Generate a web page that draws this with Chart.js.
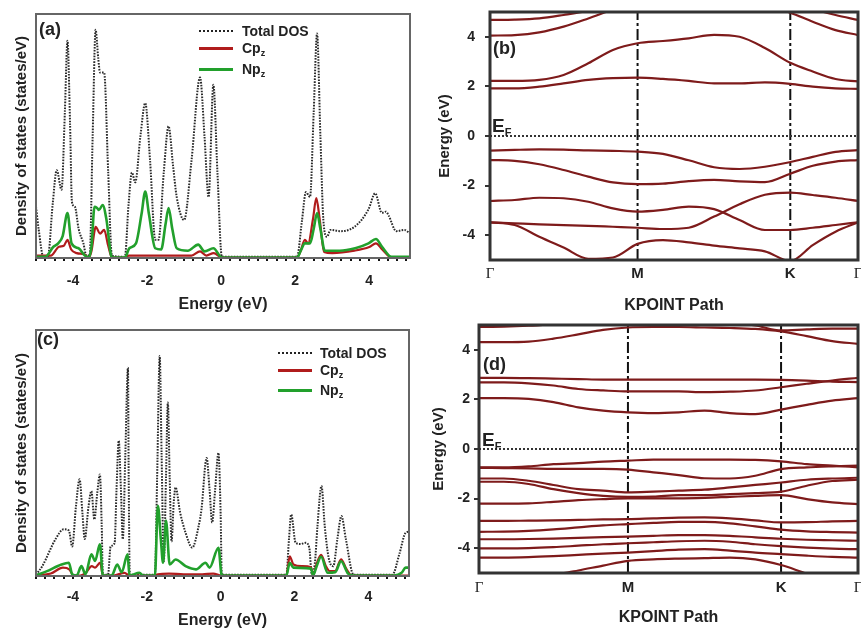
<!DOCTYPE html>
<html>
<head>
<meta charset="utf-8">
<script src="https://cdn.jsdelivr.net/npm/chart.js@4.4.1/dist/chart.umd.min.js"></script>
<style>
body{margin:0;background:#fff;width:861px;height:630px;position:relative;overflow:hidden;font-family:"Liberation Sans",Arial,sans-serif;}
canvas{position:absolute;}
.t{position:absolute;font-weight:bold;color:#222;white-space:nowrap;line-height:1;font-size:14px;}
.t sub{font-size:9px;vertical-align:-3px;}
.lab{font-size:18px;}
.ef{font-size:19px;font-weight:bold;}
.ef sub{font-size:11px;vertical-align:-4px;}
.ln{position:absolute;height:0;width:34px;}
</style>
</head>
<body>
<canvas id="dosA" width="430" height="316" style="left:0;top:0"></canvas>
<canvas id="bandB" width="431" height="316" style="left:430px;top:0"></canvas>
<canvas id="dosC" width="430" height="314" style="left:0;top:316px"></canvas>
<canvas id="bandD" width="431" height="314" style="left:430px;top:316px"></canvas>

<div class="t lab" style="left:39px;top:20px">(a)</div>
<div class="ln" style="left:199px;top:30px;border-top:2px dotted #222"></div>
<div class="t" style="left:242px;top:24px">Total DOS</div>
<div class="ln" style="left:199px;top:47px;border-top:3px solid #b01c1c"></div>
<div class="t" style="left:242px;top:41px">Cp<sub>z</sub></div>
<div class="ln" style="left:199px;top:68px;border-top:3px solid #22a02c"></div>
<div class="t" style="left:242px;top:62px">Np<sub>z</sub></div>

<div class="t lab" style="left:493px;top:39px">(b)</div>
<div class="t ef" style="left:492px;top:116px">E<sub>F</sub></div>

<div class="t lab" style="left:37px;top:330px">(c)</div>
<div class="ln" style="left:278px;top:352px;border-top:2px dotted #222"></div>
<div class="t" style="left:320px;top:346px">Total DOS</div>
<div class="ln" style="left:278px;top:369px;border-top:3px solid #b01c1c"></div>
<div class="t" style="left:320px;top:363px">Cp<sub>z</sub></div>
<div class="ln" style="left:278px;top:389px;border-top:3px solid #22a02c"></div>
<div class="t" style="left:320px;top:383px">Np<sub>z</sub></div>

<div class="t lab" style="left:483px;top:355px">(d)</div>
<div class="t ef" style="left:482px;top:430px">E<sub>F</sub></div>

<script>
// DOS panels: [energy (eV), states/eV]
const dosA_total = [[-5.0,2.1],[-4.93,1.2],[-4.8,0.05],[-4.68,0.05],[-4.55,2.2],[-4.44,3.6],[-4.31,2.8],[-4.22,6.0],[-4.15,8.9],[-4.08,5.5],[-4.03,2.3],[-3.95,2.1],[-3.85,1.2],[-3.72,0.6],[-3.64,0.1],[-3.55,0.1],[-3.47,5.0],[-3.39,9.35],[-3.32,8.2],[-3.27,7.6],[-3.16,7.6],[-3.05,3.5],[-2.95,0.1],[-2.6,0.05],[-2.5,2.2],[-2.41,3.5],[-2.32,3.1],[-2.18,5.0],[-2.05,6.35],[-1.92,4.0],[-1.78,0.75],[-1.69,0.75],[-1.55,3.5],[-1.42,5.4],[-1.3,3.8],[-1.2,2.5],[-1.0,1.56],[-0.8,4.0],[-0.57,7.4],[-0.45,5.0],[-0.34,2.5],[-0.21,7.1],[-0.1,3.5],[0.02,0.05],[2.05,0.05],[2.18,1.5],[2.29,2.7],[2.4,2.5],[2.5,6.0],[2.59,9.2],[2.68,5.0],[2.76,1.56],[2.86,0.87],[2.95,1.15],[3.22,1.1],[3.62,1.3],[3.98,2.0],[4.16,2.65],[4.34,1.85],[4.45,1.9],[4.52,1.75],[4.73,1.1],[4.95,1.15],[5.1,1.0]];
const dosA_cp = [[-5.0,0.1],[-4.6,0.1],[-4.38,0.46],[-4.25,0.5],[-4.15,0.74],[-4.05,0.35],[-3.9,0.2],[-3.7,0.15],[-3.58,0.02],[-3.5,0.3],[-3.42,1.1],[-3.39,1.28],[-3.27,1.0],[-3.16,1.15],[-3.05,0.5],[-2.95,0.02],[-2.6,0.02],[-2.5,0.1],[-1.5,0.1],[-0.8,0.1],[-0.57,0.27],[-0.4,0.1],[-0.2,0.2],[0.02,0.02],[2.05,0.02],[2.15,0.3],[2.26,0.74],[2.35,0.6],[2.48,1.6],[2.57,2.45],[2.66,1.6],[2.78,0.25],[3.0,0.2],[3.6,0.3],[4.0,0.45],[4.18,0.6],[4.35,0.35],[4.6,0.02],[5.1,0.02]];
const dosA_np = [[-5.0,0.05],[-4.75,0.05],[-4.53,0.46],[-4.4,0.6],[-4.28,0.9],[-4.15,1.84],[-4.04,0.6],[-3.85,0.4],[-3.68,0.1],[-3.58,0.02],[-3.5,0.5],[-3.42,2.1],[-3.35,2.05],[-3.3,1.97],[-3.2,2.17],[-3.1,1.6],[-2.95,0.02],[-2.6,0.02],[-2.48,0.4],[-2.3,0.6],[-2.15,1.8],[-2.05,2.72],[-1.95,1.8],[-1.78,0.4],[-1.62,0.35],[-1.5,1.4],[-1.42,2.05],[-1.32,1.2],[-1.2,0.4],[-0.9,0.3],[-0.62,0.55],[-0.45,0.27],[-0.21,0.4],[0.02,0.02],[2.05,0.02],[2.15,0.3],[2.26,0.6],[2.4,0.6],[2.5,1.2],[2.59,1.84],[2.68,1.2],[2.8,0.3],[3.2,0.3],[3.62,0.4],[3.98,0.6],[4.18,0.78],[4.35,0.45],[4.6,0.05],[5.1,0.05]];

const dosC_total = [[-5.0,0.05],[-4.83,0.4],[-4.47,1.5],[-4.25,1.9],[-4.11,1.85],[-4.02,1.2],[-3.92,2.8],[-3.82,3.93],[-3.74,2.5],[-3.68,1.5],[-3.58,2.8],[-3.5,3.45],[-3.42,2.3],[-3.34,3.4],[-3.27,4.13],[-3.22,2.0],[-3.19,0.05],[-3.05,0.05],[-2.98,1.2],[-2.87,1.35],[-2.82,3.5],[-2.76,5.5],[-2.7,3.5],[-2.65,1.5],[-2.58,5.0],[-2.51,8.47],[-2.49,4.0],[-2.46,0.05],[-1.78,0.05],[-1.72,4.0],[-1.65,8.94],[-1.6,5.0],[-1.54,0.6],[-1.48,4.0],[-1.43,7.05],[-1.38,4.0],[-1.33,1.4],[-1.27,3.0],[-1.22,3.6],[-1.1,2.6],[-0.95,1.76],[-0.77,1.15],[-0.6,2.0],[-0.52,2.7],[-0.38,4.8],[-0.3,3.5],[-0.23,2.17],[-0.15,3.5],[-0.06,5.0],[0.0,2.5],[0.03,0.05],[1.78,0.05],[1.85,1.5],[1.91,2.5],[2.03,1.35],[2.17,1.3],[2.3,1.35],[2.4,1.15],[2.47,0.05],[2.55,0.5],[2.62,2.0],[2.73,3.66],[2.82,2.0],[2.93,0.7],[3.05,0.4],[3.16,1.5],[3.27,2.44],[3.39,1.5],[3.6,0.05],[4.65,0.05],[4.84,0.9],[5.01,1.76],[5.1,1.8]];
const dosC_cp = [[-5.0,0.02],[-4.6,0.1],[-4.27,0.34],[-4.1,0.27],[-3.98,0.02],[-3.8,0.02],[-3.65,0.13],[-3.49,0.4],[-3.4,0.34],[-3.26,0.54],[-3.19,0.02],[-2.9,0.02],[-2.6,0.13],[-2.48,0.02],[-1.8,0.02],[-1.7,0.07],[-1.4,0.1],[-1.0,0.07],[-0.5,0.07],[-0.2,0.1],[0.02,0.02],[1.78,0.02],[1.87,0.8],[1.97,0.47],[2.2,0.4],[2.45,0.35],[2.5,0.02],[2.6,0.5],[2.72,0.86],[2.85,0.4],[2.95,0.2],[3.1,0.2],[3.26,0.68],[3.4,0.3],[3.55,0.02],[5.1,0.02]];
const dosC_np = [[-5.0,0.02],[-4.7,0.2],[-4.31,0.47],[-4.11,0.54],[-4.02,0.07],[-3.9,0.02],[-3.77,0.4],[-3.66,0.07],[-3.5,0.88],[-3.4,0.61],[-3.27,1.29],[-3.19,0.02],[-2.95,0.02],[-2.8,0.47],[-2.68,0.15],[-2.52,0.88],[-2.47,0.02],[-2.2,0.13],[-2.1,0.02],[-1.78,0.02],[-1.7,2.85],[-1.62,1.5],[-1.56,0.54],[-1.48,2.25],[-1.38,0.47],[-1.22,0.67],[-0.95,0.4],[-0.67,0.27],[-0.41,0.54],[-0.3,0.34],[-0.06,1.15],[0.03,0.02],[1.78,0.02],[1.87,0.54],[1.97,0.34],[2.45,0.3],[2.5,0.02],[2.6,0.4],[2.72,0.78],[2.9,0.13],[3.1,0.15],[3.26,0.6],[3.45,0.1],[3.6,0.02],[4.7,0.02],[4.9,0.13],[5.01,0.34],[5.1,0.34]];

const dosTickLabels = [-4, -2, 0, 2, 4];

// band structures: k path position (0..1) and energies (eV)
const kLabels = ['Γ', 'M', 'K', 'Γ'];
const kTicksB = [0, 0.401, 0.816, 1];
const kTicksD = [0, 0.393, 0.797, 1];
const eTicks = [-4, -2, 0, 2, 4];

const kB = [0, 0.067, 0.134, 0.2, 0.267, 0.334, 0.401, 0.47, 0.54, 0.609, 0.678, 0.747, 0.816, 0.877, 0.939, 1.0];
const bandsB = [
  [4.68, 4.69, 4.74, 4.88, 5.05, 5.3, 5.5, 5.6, 5.6, 5.6, 5.6, 5.5, 5.4, 5.12, 4.88, 4.68],
  [4.05, 4.07, 4.18, 4.41, 4.74, 5.1, 5.4, 5.6, 5.7, 5.7, 5.6, 5.3, 4.97, 4.61, 4.27, 4.07],
  [2.22, 2.22, 2.26, 2.46, 2.93, 3.47, 3.74, 3.83, 3.94, 4.08, 4.0, 3.55, 2.95, 2.6, 2.3, 2.2],
  [1.92, 1.92, 1.99, 2.12, 2.26, 2.33, 2.35, 2.3, 2.22, 2.12, 2.12, 2.16, 2.1, 1.99, 1.92, 1.9],
  [-0.59, -0.56, -0.54, -0.55, -0.58, -0.6, -0.63, -0.72, -0.98, -1.26, -1.33, -1.24, -1.05, -0.84, -0.64, -0.57],
  [-0.97, -1.0, -1.14, -1.37, -1.64, -1.87, -1.94, -1.92, -1.82, -1.77, -1.83, -1.86, -1.52, -1.2, -1.03, -0.97],
  [-2.62, -2.58, -2.49, -2.51, -2.65, -2.92, -3.05, -2.98, -2.85, -2.95, -3.39, -3.79, -3.79, -3.7, -3.59, -3.48],
  [-3.48, -3.52, -3.56, -3.59, -3.62, -3.66, -3.7, -3.75, -3.7, -3.25, -2.75, -2.37, -2.28, -2.38, -2.49, -2.62],
  [-3.48, -3.59, -4.06, -4.5, -4.95, -4.9, -4.35, -4.2, -4.29, -4.42, -4.53, -4.65, -5.04, -4.4, -3.86, -3.48]
];

const kD = [0, 0.0655, 0.131, 0.1965, 0.262, 0.3275, 0.393, 0.46, 0.527, 0.595, 0.662, 0.729, 0.797, 0.865, 0.932, 1.0];
const bandsD = [
  [4.92, 4.93, 4.97, 5.04, 5.12, 5.2, 5.25, 5.25, 5.25, 5.2, 5.1, 4.98, 4.78, 4.82, 4.85, 4.85],
  [4.31, 4.31, 4.33, 4.45, 4.62, 4.8, 4.9, 4.92, 4.92, 4.9, 4.88, 4.84, 4.74, 4.55, 4.35, 4.24],
  [2.87, 2.87, 2.86, 2.84, 2.82, 2.8, 2.8, 2.8, 2.8, 2.8, 2.8, 2.8, 2.79, 2.76, 2.72, 2.7],
  [2.69, 2.69, 2.65, 2.56, 2.42, 2.36, 2.32, 2.32, 2.32, 2.29, 2.31, 2.36, 2.49, 2.63, 2.76, 2.87],
  [2.05, 2.05, 2.02, 1.89, 1.68, 1.55, 1.48, 1.45, 1.48, 1.55, 1.45, 1.41, 1.59, 1.78, 1.95, 2.05],
  [-0.74, -0.74, -0.7, -0.61, -0.57, -0.51, -0.47, -0.43, -0.43, -0.43, -0.43, -0.44, -0.5, -0.61, -0.67, -0.74],
  [-0.76, -0.77, -0.78, -0.8, -0.8, -0.8, -0.83, -0.94, -1.05, -1.18, -1.19, -1.08, -0.81, -0.74, -0.7, -0.67],
  [-1.19, -1.19, -1.28, -1.45, -1.62, -1.68, -1.75, -1.72, -1.68, -1.64, -1.55, -1.45, -1.35, -1.24, -1.19, -1.16],
  [-1.32, -1.32, -1.41, -1.62, -1.78, -1.89, -1.93, -1.92, -1.86, -1.86, -1.82, -1.78, -1.72, -1.48, -1.29, -1.24],
  [-2.2, -2.2, -2.19, -2.13, -2.06, -2.02, -1.99, -1.99, -1.99, -1.97, -1.93, -1.89, -1.86, -2.02, -2.15, -2.22],
  [-2.9, -2.9, -2.89, -2.88, -2.86, -2.84, -2.83, -2.8, -2.77, -2.76, -2.8, -2.88, -2.96, -2.95, -2.92, -2.9],
  [-3.34, -3.33, -3.3, -3.24, -3.16, -3.08, -3.03, -2.98, -2.94, -2.94, -3.0, -3.12, -3.25, -3.32, -3.35, -3.37],
  [-3.64, -3.64, -3.63, -3.61, -3.58, -3.55, -3.53, -3.5, -3.47, -3.47, -3.5, -3.56, -3.62, -3.66, -3.68, -3.7],
  [-4.01, -4.01, -4.0, -3.96, -3.9, -3.84, -3.8, -3.76, -3.72, -3.7, -3.74, -3.84, -3.92, -3.98, -4.02, -4.04],
  [-4.38, -4.38, -4.36, -4.32, -4.27, -4.22, -4.18, -4.12, -4.06, -4.04, -4.1, -4.18, -4.24, -4.3, -4.35, -4.38],
  [-5.6, -5.5, -5.3, -5.08, -4.9, -4.7, -4.51, -4.45, -4.42, -4.4, -4.38, -4.45, -4.68, -5.02, -5.3, -5.5]
];

const FONT = '"Liberation Sans", Arial, sans-serif';

const boxPlugin = {
  id: 'box',
  afterDatasetsDraw(chart, args, opts) {
    const a = chart.chartArea, c = chart.ctx;
    c.save();
    c.strokeStyle = opts.color;
    c.lineWidth = opts.width;
    c.strokeRect(a.left, a.top, a.right - a.left, a.bottom - a.top);
    c.restore();
  }
};

function pts(arr){
  return arr.map(p => ({x: p[0], y: p[1]}));
}

function noPad(s){
  s.paddingLeft = 0; s.paddingRight = 0; s.paddingTop = 0; s.paddingBottom = 0;
}

function dosChart(id, total, cp, np, lay){
  const ctx = document.getElementById(id).getContext('2d');
  return new Chart(ctx, {
    type: 'scatter',
    data: {
      datasets: [
        {data: pts(np), showLine: true, borderColor: '#22a02c', borderWidth: 2.6, pointRadius: 0, cubicInterpolationMode: 'monotone', order: 0, clip: 4},
        {data: pts(cp), showLine: true, borderColor: '#b01c1c', borderWidth: 2.2, pointRadius: 0, cubicInterpolationMode: 'monotone', order: 1, clip: 4},
        {data: pts(total), showLine: true, borderColor: '#2a2a2a', borderWidth: 2, borderDash: [1.6, 1.3], pointRadius: 0, cubicInterpolationMode: 'monotone', order: 2, clip: 4}
      ]
    },
    options: {
      responsive: false,
      animation: false,
      layout: {padding: {top: lay.top, right: lay.right, left: 0, bottom: 0}},
      plugins: {legend: {display: false}, tooltip: {enabled: false}, box: {color: '#666', width: 2}},
      scales: {
        x: {
          type: 'linear', min: -5, max: 5.1,
          afterFit(s){ s.height = lay.xh; noPad(s); },
          afterBuildTicks(s){
            const t = [];
            for (let i = 0; i <= 40; i++) t.push({value: -5 + i * 0.25});
            s.ticks = t;
          },
          grid: {drawOnChartArea: false, tickLength: 3, color: '#111', lineWidth: 2},
          border: {display: false},
          ticks: {
            autoSkip: false, maxRotation: 0, padding: lay.tp, color: '#222',
            font: {family: FONT, size: 14, weight: 'bold'},
            callback: v => dosTickLabels.includes(v) ? String(v) : ''
          },
          title: {display: true, text: 'Energy (eV)', color: '#222', padding: {top: 0, bottom: lay.titb}, font: {family: FONT, size: 16, weight: 'bold'}}
        },
        y: {
          min: 0, max: 10,
          afterFit(s){ s.width = 36; noPad(s); },
          ticks: {display: false},
          grid: {display: false},
          border: {display: false},
          title: {display: true, text: 'Density of states (states/eV)', color: '#222', padding: {top: 13, bottom: 0}, font: {family: FONT, size: 15, weight: 'bold'}}
        }
      }
    },
    plugins: [boxPlugin]
  });
}

function bandChart(id, k, bands, kTicks, lay){
  const ctx = document.getElementById(id).getContext('2d');
  let sets = [];
  for (let i = 0; i < bands.length; i++){
    sets.push({data: k.map((x, j) => ({x: x, y: bands[i][j]})), showLine: true, borderColor: '#7e1b1b', borderWidth: 2.2, pointRadius: 0, cubicInterpolationMode: 'monotone'});
  }
  sets.push({data: [{x: 0, y: 0}, {x: 1, y: 0}], showLine: true, borderColor: '#333', borderWidth: 2, borderDash: [2, 2], pointRadius: 0});
  sets.push({data: [{x: kTicks[1], y: -5}, {x: kTicks[1], y: 5}], showLine: true, borderColor: '#111', borderWidth: 2, borderDash: [11, 3, 3, 3], pointRadius: 0});
  sets.push({data: [{x: kTicks[2], y: -5}, {x: kTicks[2], y: 5}], showLine: true, borderColor: '#111', borderWidth: 2, borderDash: [11, 3, 3, 3], pointRadius: 0});

  return new Chart(ctx, {
    type: 'scatter',
    data: {datasets: sets},
    options: {
      responsive: false,
      animation: false,
      layout: {padding: {top: lay.top, right: 3, left: 0, bottom: 0}},
      plugins: {legend: {display: false}, tooltip: {enabled: false}, box: {color: '#333', width: 3}},
      scales: {
        x: {
          type: 'linear', min: 0, max: 1,
          afterFit(s){ s.height = lay.xh; noPad(s); },
          afterBuildTicks(s){ s.ticks = kTicks.map(v => ({value: v})); },
          grid: {display: false, drawTicks: false},
          border: {display: false},
          ticks: {
            autoSkip: false, maxRotation: 0, padding: lay.tp, color: '#222',
            font: c => kLabels[c.index] === 'Γ' ? {family: '"Liberation Serif", serif', size: 15} : {family: FONT, size: 15, weight: 'bold'},
            callback: (v, i) => kLabels[i]
          },
          title: {display: true, text: 'KPOINT Path', color: '#222', padding: {top: 0, bottom: lay.titb}, font: {family: FONT, size: 16, weight: 'bold'}}
        },
        y: {
          min: -5, max: 5,
          afterFit(s){ s.width = lay.yw; noPad(s); },
          afterBuildTicks(s){ s.ticks = eTicks.map(v => ({value: v})); },
          grid: {drawOnChartArea: false, tickLength: 5, color: '#333', lineWidth: 2},
          border: {display: false},
          ticks: {padding: lay.ytp, color: '#222', font: {family: FONT, size: 14, weight: 'bold'}},
          title: {display: true, text: 'Energy (eV)', color: '#222', padding: {top: lay.ytit, bottom: 0}, font: {family: FONT, size: 15, weight: 'bold'}}
        }
      }
    },
    plugins: [boxPlugin]
  });
}

function dibujar(){
  dosChart('dosA', dosA_total, dosA_cp, dosA_np, {top: 14, right: 20, xh: 58, tp: 12, titb: 2});
  dosChart('dosC', dosC_total, dosC_cp, dosC_np, {top: 14, right: 21, xh: 54, tp: 10, titb: 0});
  bandChart('bandB', kB, bandsB, kTicksB, {top: 12, xh: 56, tp: 5, titb: 1, yw: 60, ytp: 10, ytit: 6});
  bandChart('bandD', kD, bandsD, kTicksD, {top: 9, xh: 57, tp: 6, titb: 3, yw: 49, ytp: 4, ytit: 0});
}

window.addEventListener('load', dibujar);
</script>
</body>
</html>
